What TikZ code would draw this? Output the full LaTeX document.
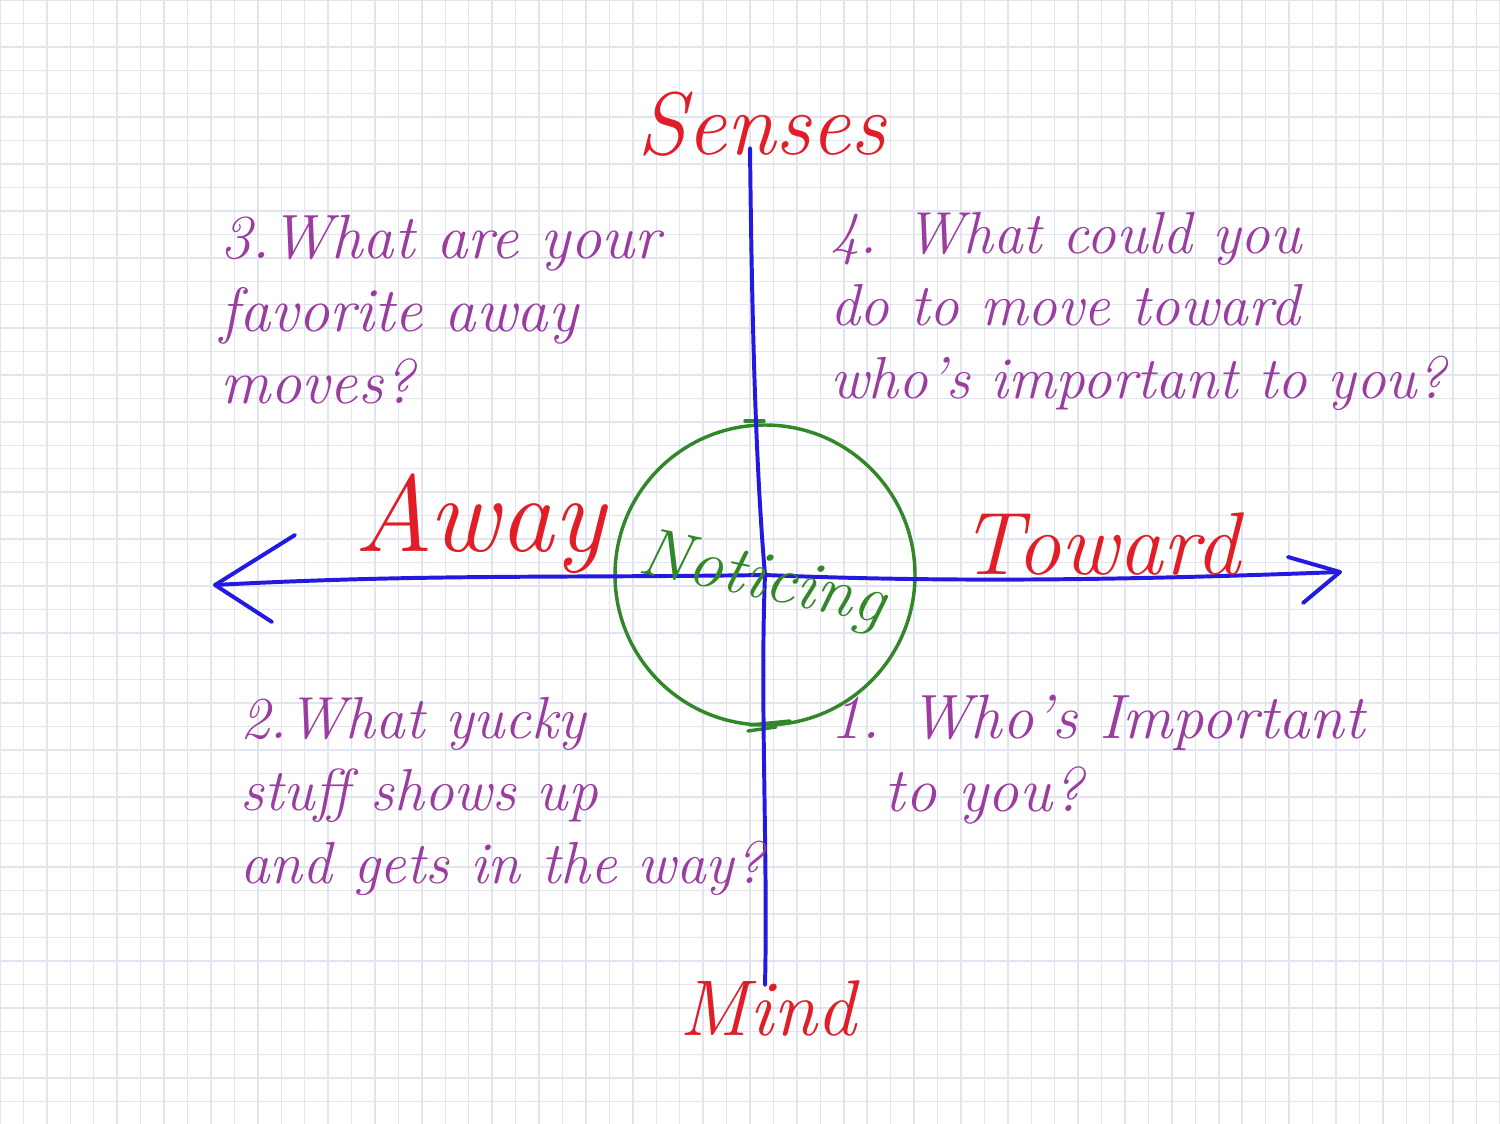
\documentclass[tikz,border=0pt]{standalone}
\usepackage{fontspec}
\usetikzlibrary{positioning}
\definecolor{penblue}{RGB}{35,25,225}
\definecolor{penred}{RGB}{225,30,40}
\definecolor{penpurple}{RGB}{155,60,160}
\definecolor{pengreen}{RGB}{50,135,40}
\definecolor{gridgrey}{RGB}{226,229,240}

\begin{document}
\begin{tikzpicture}[x=0.021333cm, y=-0.021333cm,
  gridline/.style={draw=gridgrey, line width=0.9pt},
  axis/.style={draw=penblue, line width=2.4pt, line cap=round, line join=round},
  ring/.style={draw=pengreen, line width=2.1pt, line cap=round},
  pole/.style={text=penred, font=\fontsize{54}{60}\selectfont\itshape, inner sep=0pt, anchor=base},
  question/.style={text=penpurple, font=\fontsize{38}{44}\selectfont\itshape, align=left,
                   inner sep=0pt, anchor=north west}]
  \useasboundingbox[fill=white] (0,0) rectangle (1500,1124);
  \foreach \i in {0,...,64} \draw[gridline] (\i*23.4375,0) -- (\i*23.4375,1124);
  \foreach \j in {0,...,48} \draw[gridline] (0,\j*23.4375) -- (1500,\j*23.4375);

  \coordinate (west)  at (215,585);
  \coordinate (east)  at (1340,572);
  \coordinate (north) at (750,148);
  \coordinate (south) at (765,985);
  \coordinate (hub)   at (765,575);

  \draw[ring] (hub) circle[radius=150];
  \draw[ring] (745,421) -- (764,421);
  \draw[ring] (750,725) -- (790,721) (748,731) -- (776,727);

  \draw[axis] (west) .. controls (420,574) and (560,578) .. (hub)
                     .. controls (980,584) and (1180,578) .. (east);
  \draw[axis] (west) -- ++(80,-50) (west) -- ++(57,37);
  \draw[axis] (east) -- ++(-52,-15) (east) -- ++(-37,31);
  \draw[axis] (north) .. controls (752,330) and (756,470) .. (hub)
                      .. controls (760,700) and (768,860) .. (south);

  \node[pole] (senses)  at (762,155)  {Senses};
  \node[pole, font=\fontsize{48}{54}\selectfont\itshape] (mind) at (768,1035) {Mind};
  \node[pole, font=\fontsize{66}{70}\selectfont\itshape] (away) at (480,552) {Away};
  \node[pole] (toward)  at (1100,575) {Toward};
  \node[text=pengreen, font=\fontsize{42}{48}\selectfont\itshape, rotate=-12] (noticing)
       at (762,582) {Noticing};

  \node[question] (q3) at (220,215) {3.What are your\\favorite away\\moves?};
  \node[question, font=\fontsize{36}{44}\selectfont\itshape] (q4) at (830,212)
       {4. What could you\\do to move toward\\who's important to you?};
  \node[question, font=\fontsize{36}{44}\selectfont\itshape] (q2) at (240,697)
       {2.What yucky\\stuff shows up\\and gets in the way?};
  \node[question] (q1) at (830,695) {1. Who's Important\\\hspace*{33pt}to you?};
\end{tikzpicture}
\end{document}
